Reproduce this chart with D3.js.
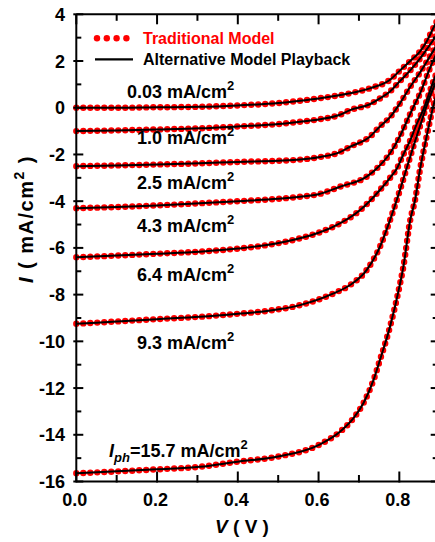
<!DOCTYPE html>
<html><head><meta charset="utf-8">
<script src="https://cdn.jsdelivr.net/npm/d3@7"></script>
<style>
body{margin:0;background:#fff;}
text{font-family:"Liberation Sans",Arial,sans-serif;font-weight:bold;fill:#000;}
</style></head>
<body><svg id="c" width="435" height="542"></svg>
<script>
// ---- data ----
const seriesLabels = ["0.03", "1.0", "2.5", "4.3", "6.4", "9.3", "15.7"];
const curve003 = [[0,0],[0.1,0],[0.2,0.02],[0.306,0.04],[0.4,0.1],[0.5,0.2],[0.554,0.3],[0.6,0.4],[0.678,0.62],[0.727,0.83],[0.777,1.2],[0.802,1.6],[0.827,2.0],[0.851,2.4],[0.868,2.85],[0.884,3.4],[0.9,3.95]];
const curve10 = [[0,-1.0],[0.1,-0.97],[0.2,-0.93],[0.306,-0.88],[0.4,-0.8],[0.5,-0.7],[0.554,-0.6],[0.6,-0.5],[0.653,-0.3],[0.678,-0.1],[0.727,0.15],[0.752,0.4],[0.777,0.7],[0.802,1.15],[0.827,1.6],[0.851,2.1],[0.872,2.6],[0.9,3.3]];
const curve25 = [[0,-2.5],[0.1,-2.47],[0.2,-2.43],[0.306,-2.38],[0.4,-2.32],[0.5,-2.27],[0.554,-2.22],[0.6,-2.12],[0.653,-1.9],[0.678,-1.67],[0.727,-1.24],[0.752,-0.8],[0.777,-0.4],[0.802,0.2],[0.827,0.9],[0.851,1.5],[0.876,2.2],[0.9,2.9]];
const curve43 = [[0,-4.3],[0.1,-4.25],[0.2,-4.18],[0.306,-4.09],[0.4,-4.0],[0.5,-3.9],[0.554,-3.81],[0.6,-3.7],[0.653,-3.38],[0.719,-2.95],[0.744,-2.6],[0.777,-1.95],[0.802,-1.2],[0.818,-0.6],[0.834,0.0],[0.851,0.6],[0.876,1.7],[0.9,2.6]];
const curve64 = [[0,-6.4],[0.1,-6.33],[0.2,-6.25],[0.306,-6.16],[0.4,-6.03],[0.472,-5.88],[0.554,-5.59],[0.6,-5.35],[0.637,-5.09],[0.703,-4.38],[0.752,-3.52],[0.777,-3.0],[0.794,-2.6],[0.81,-2.0],[0.827,-1.4],[0.843,-0.7],[0.859,-0.1],[0.888,1.3],[0.9,1.8]];
const curve93 = [[0,-9.25],[0.1,-9.15],[0.2,-9.05],[0.306,-8.95],[0.4,-8.82],[0.472,-8.7],[0.554,-8.45],[0.637,-7.95],[0.678,-7.59],[0.719,-6.95],[0.752,-5.95],[0.777,-4.81],[0.802,-3.5],[0.818,-2.6],[0.834,-1.7],[0.851,-0.8],[0.868,0.1],[0.9,1.5]];
const curve157 = [[0,-15.65],[0.2,-15.48],[0.306,-15.37],[0.4,-15.15],[0.497,-14.94],[0.6,-14.44],[0.653,-13.87],[0.686,-13.3],[0.711,-12.65],[0.736,-11.66],[0.752,-10.8],[0.777,-9.37],[0.802,-7.52],[0.81,-6.81],[0.827,-4.81],[0.839,-3.95],[0.851,-2.67],[0.868,-1.2],[0.888,0.33],[0.9,1.0]];
const curves = [curve003, curve10, curve25, curve43, curve64, curve93, curve157];
const xMajorTicks = [0, 0.2, 0.4, 0.6, 0.8];
const xMinorTicks = [0.1, 0.3, 0.5, 0.7, 0.9];
const xTickLabels = ["0.0", "0.2", "0.4", "0.6", "0.8"];
const yMajorTicks = [4, 2, 0, -2, -4, -6, -8, -10, -12, -14, -16];
const yMinorTicks = [3, 1, -1, -3, -5, -7, -9, -11, -13, -15];
const legendLabels = ["Traditional Model", "Alternative Model Playback"];

// ---- layout ----
const svg = d3.select("#c");
const x = d3.scaleLinear().domain([0, 0.9]).range([76.3, 439.7]);
const y = d3.scaleLinear().domain([-16, 4]).range([481.5, 14.3]);
const RED = "#ff0000";

svg.append("clipPath").attr("id","clip").append("rect")
  .attr("x", 66).attr("y", y(4)).attr("width", x(0.9)-66).attr("height", y(-16)-y(4));

const line = d3.line().x(d => x(d[0])).y(d => y(d[1])).curve(d3.curveMonotoneX);
const gC = svg.append("g").attr("clip-path","url(#clip)");
curves.forEach(c => {
  gC.append("path").attr("d", line(c)).attr("fill","none")
    .attr("stroke", RED).attr("stroke-width", 6.4).attr("stroke-linecap","round")
    .attr("stroke-dasharray","0 7");
});
curves.forEach(c => {
  gC.append("path").attr("d", line(c)).attr("fill","none")
    .attr("stroke", "#000").attr("stroke-width", 2);
});

// ---- axes frame ----
const ax = svg.append("g").attr("stroke","#000").attr("fill","none");
ax.append("line").attr("x1", x(0)).attr("x2", x(0.9)).attr("y1", y(-16)).attr("y2", y(-16)).attr("stroke-width", 2);
ax.append("line").attr("x1", x(0)).attr("x2", x(0.9)).attr("y1", y(4)).attr("y2", y(4)).attr("stroke-width", 2);
ax.append("line").attr("x1", x(0)).attr("x2", x(0)).attr("y1", y(4)).attr("y2", y(-16)).attr("stroke-width", 2);
ax.append("line").attr("x1", x(0.9)).attr("x2", x(0.9)).attr("y1", y(4)).attr("y2", y(-16)).attr("stroke-width", 2);

function xt(list, len){
  list.forEach(v => {
    ax.append("line").attr("x1", x(v)).attr("x2", x(v)).attr("y1", y(-16)+1).attr("y2", y(-16)-len).attr("stroke-width", 2);
    ax.append("line").attr("x1", x(v)).attr("x2", x(v)).attr("y1", y(4)).attr("y2", y(4)+len).attr("stroke-width", 2);
  });
}
xt(xMajorTicks, 10); xt(xMinorTicks, 6.5);
function yt(list, len, out){
  list.forEach(v => {
    ax.append("line").attr("x1", x(0)-out).attr("x2", x(0)+len).attr("y1", y(v)).attr("y2", y(v)).attr("stroke-width", 2);
    ax.append("line").attr("x1", x(0.9)).attr("x2", x(0.9)-len-2).attr("y1", y(v)).attr("y2", y(v)).attr("stroke-width", 2);
  });
}
yt(yMajorTicks, 7, 3); yt(yMinorTicks, 5, 0);

// tick labels
svg.append("g").selectAll("text").data(xMajorTicks).join("text")
  .attr("x", d => x(d)-1.5).attr("y", 506).attr("text-anchor","middle")
  .style("font-size","18px").text((d,i) => xTickLabels[i]);
svg.append("g").selectAll("text").data(yMajorTicks).join("text")
  .attr("x", 65).attr("y", d => y(d)).attr("dy","0.36em").attr("text-anchor","end")
  .style("font-size","18px").text(d => d);

// axis titles
const xt1 = svg.append("text").attr("x", 242).attr("y", 533).attr("text-anchor","middle").style("font-size","19px");
xt1.append("tspan").style("font-style","italic").text("V");
xt1.append("tspan").text(" ( V )");

const yt1 = svg.append("text").attr("transform","translate(33,219) rotate(-90)").attr("text-anchor","middle")
  .style("font-size","20px").style("letter-spacing","1.5px");
yt1.append("tspan").style("font-style","italic").text("I");
yt1.append("tspan").text(" (  mA/cm");
yt1.append("tspan").attr("dy", -9).style("font-size","14px").text("2");
yt1.append("tspan").attr("dy", 9).text(" )");

// legend
const lg = svg.append("g");
[0,1,2,3].forEach(i => lg.append("circle").attr("cx", 97 + i*9.8).attr("cy", 38.3).attr("r", 3.2).attr("fill", RED));
lg.append("line").attr("x1", 95).attr("x2", 133).attr("y1", 59.3).attr("y2", 59.3).attr("stroke","#000").attr("stroke-width",2.2);
lg.append("text").attr("x", 143).attr("y", 44).style("font-size","16px").style("fill", RED).text(legendLabels[0]);
lg.append("text").attr("x", 143).attr("y", 65).style("font-size","16px").text(legendLabels[1]);

// curve labels
const labelPos = [[127,97.5],[137,143.5],[137,189],[137,232],[137,281],[137,348.5]];
seriesLabels.slice(0,6).forEach((s,i) => {
  const t = svg.append("text").attr("x", labelPos[i][0]).attr("y", labelPos[i][1]).style("font-size","18px");
  t.append("tspan").text(s + " mA/cm");
  t.append("tspan").attr("dy", -8).style("font-size","13px").text("2");
});
const tp = svg.append("text").attr("x", 109).attr("y", 457).style("font-size","18px");
tp.append("tspan").style("font-style","italic").text("I");
tp.append("tspan").attr("dy", 5).style("font-size","13px").style("font-style","italic").text("ph");
tp.append("tspan").attr("dy", -5).text("=" + seriesLabels[6] + " mA/cm");
tp.append("tspan").attr("dy", -8).style("font-size","13px").text("2");
</script></body></html>
